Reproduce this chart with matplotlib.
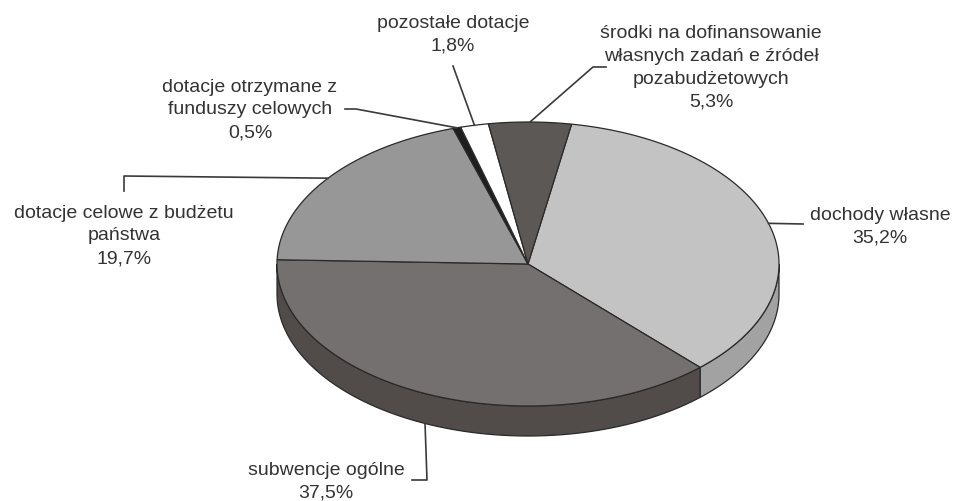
import numpy as np
import matplotlib
matplotlib.use("Agg")
import matplotlib.pyplot as plt
from matplotlib.patches import Polygon

plt.rcParams['font.family'] = ['Liberation Sans', 'DejaVu Sans']

# data, clockwise from the top
labels = ["dochody własne", "subwencje ogólne", "dotacje celowe z budżetu\npaństwa",
          "dotacje otrzymane z\nfunduszy celowych", "pozostałe dotacje",
          "środki na dofinansowanie\nwłasnych zadań e źródeł\npozabudżetowych"]
values = [35.2, 37.5, 19.7, 0.5, 1.8, 5.3]
top_colors = ["#c3c3c3", "#747070", "#979797", "#1e1e1e", "#ffffff", "#5c5856"]
side_colors = ["#a2a2a2", "#514b49", "#7a7a7a", "#111111", "#dddddd", "#403c3a"]

# geometry of the 3d pie (pixels)
cx, cy = 528, 265
rx, ry = 251, 142
depth = 30
start = 10.0  # degrees clockwise from top

# label centres and leader lines (extra points before the pie point)
label_pos = [(880, 227), (326, 482), (124, 236), (250, 110), (453, 35), (711, 68)]
leader_pts = [[(803, 225)], [(412, 481), (427, 481)], [(124, 192), (124, 177)],
              [(345, 110), (356, 110)], [(453, 67)], [(606, 68), (593, 68)]]


def top_pt(t):
    r = np.radians(t)
    return cx + rx * np.sin(r), cy - ry * np.cos(r)


fig = plt.figure(figsize=(9.54, 5.02), dpi=100)
ax = fig.add_axes([0, 0, 1, 1])
ax.set_xlim(0, 954)
ax.set_ylim(502, 0)
ax.axis('off')

angles = start + np.concatenate([[0], np.cumsum(values)]) * 3.6

# side walls (front half only: 90..270 deg)
for i in range(len(values)):
    lo = max(angles[i], 90)
    hi = min(angles[i + 1], 270)
    if hi <= lo:
        continue
    t = np.linspace(lo, hi, 100)
    xs, ys = top_pt(t)
    pts = list(zip(xs, ys)) + list(zip(xs[::-1], ys[::-1] + depth))
    ax.add_patch(Polygon(pts, closed=True, facecolor=side_colors[i],
                         edgecolor="#2a2a2a", linewidth=0.9, zorder=1))

# top faces
for i in range(len(values)):
    t = np.linspace(angles[i], angles[i + 1], 200)
    xs, ys = top_pt(t)
    pts = [(cx, cy)] + list(zip(xs, ys))
    ax.add_patch(Polygon(pts, closed=True, facecolor=top_colors[i],
                         edgecolor="#2a2a2a", linewidth=0.9, zorder=2))

# labels and leaders
for i in range(len(values)):
    mid = (angles[i] + angles[i + 1]) / 2
    px, py = top_pt(mid)
    if i == 1:
        py = py + depth
    line = leader_pts[i] + [(px, py)]
    ax.plot([p[0] for p in line], [p[1] for p in line], color="#3a3a3a",
            linewidth=1.2, zorder=3)
    txt = labels[i] + "\n" + ("%.1f%%" % values[i]).replace(".", ",")
    ax.text(label_pos[i][0], label_pos[i][1], txt, ha='center', va='center',
            multialignment='center', fontsize=14, color="#333333",
            linespacing=1.45, zorder=4)

fig.savefig("out.png", dpi=100)
